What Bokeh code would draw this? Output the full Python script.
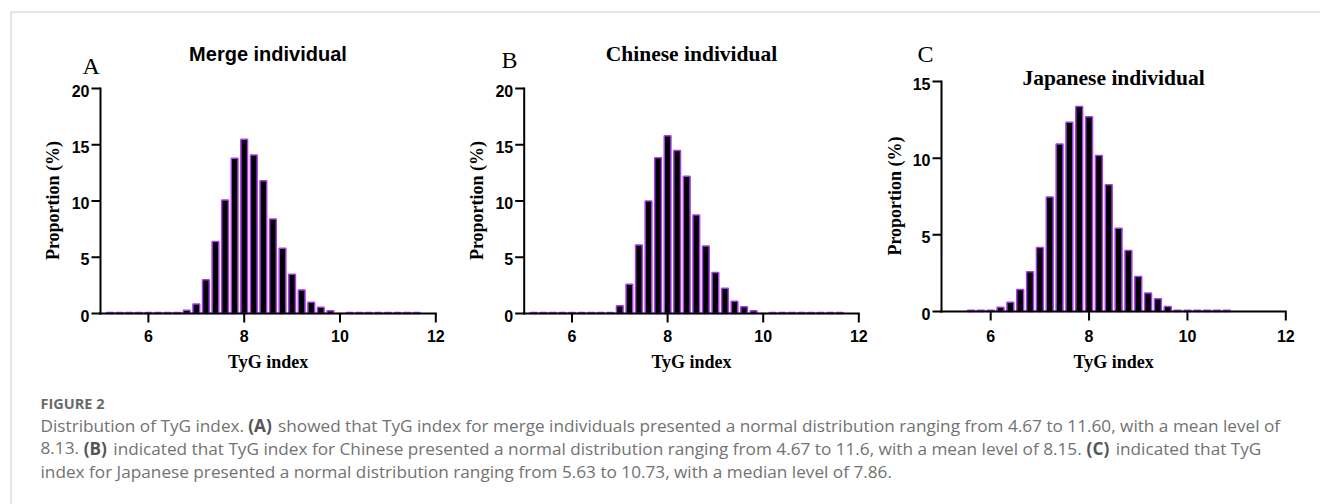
from bokeh.plotting import figure
from bokeh.models import Range1d
from bokeh.core.properties import value
from bokeh.embed import file_html
from bokeh.resources import INLINE

# ---------------- data ----------------
merge_x = [5.2, 5.4, 5.6, 5.8, 6.0, 6.2, 6.4, 6.6, 6.8, 7.0, 7.2, 7.4, 7.6, 7.8, 8.0, 8.2, 8.4,
           8.6, 8.8, 9.0, 9.2, 9.4, 9.6, 9.8, 10.0, 10.2, 10.4, 10.6, 10.8, 11.0, 11.2, 11.4, 11.6]
merge_y = [0.1, 0.1, 0.1, 0.1, 0.1, 0.1, 0.1, 0.1, 0.3, 0.85, 3.0, 6.4, 10.1, 13.8, 15.5, 14.1, 11.8,
           8.4, 5.8, 3.5, 2.1, 1.0, 0.55, 0.25, 0.0, 0.1, 0.1, 0.1, 0.1, 0.1, 0.1, 0.1, 0.1]

chinese_x = [5.2, 5.4, 5.6, 5.8, 6.0, 6.2, 6.4, 6.6, 6.8, 7.0, 7.2, 7.4, 7.6, 7.8, 8.0, 8.2, 8.4,
             8.6, 8.8, 9.0, 9.2, 9.4, 9.6, 9.8, 10.0, 10.2, 10.4, 10.6, 10.8, 11.0, 11.2, 11.4, 11.6]
chinese_y = [0.1, 0.1, 0.1, 0.1, 0.1, 0.1, 0.1, 0.1, 0.1, 0.7, 2.6, 6.1, 10.0, 13.85, 15.8, 14.5, 12.2,
             8.75, 6.0, 3.65, 2.25, 1.1, 0.6, 0.25, 0.0, 0.1, 0.1, 0.1, 0.1, 0.1, 0.1, 0.1, 0.1]

japanese_x = [5.6, 5.8, 6.0, 6.2, 6.4, 6.6, 6.8, 7.0, 7.2, 7.4, 7.6, 7.8, 8.0, 8.2, 8.4, 8.6,
              8.8, 9.0, 9.2, 9.4, 9.6, 9.8, 10.0, 10.2, 10.4, 10.6, 10.8]
japanese_y = [0.08, 0.08, 0.08, 0.28, 0.6, 1.43, 2.6, 4.17, 7.46, 10.93, 12.35, 13.37, 12.7, 10.17, 8.26, 5.43,
              3.98, 2.28, 1.2, 0.83, 0.33, 0.08, 0.08, 0.08, 0.08, 0.08, 0.08]

x_ticks = [6, 8, 10, 12]
y_ticks_ab = [0, 5, 10, 15, 20]
y_ticks_c = [0, 5, 10, 15]
x_limits = (5, 12)
y_limits_ab = (0, 20)
y_limits_c = (0, 15)

panel_titles = ["Merge individual", "Chinese individual", "Japanese individual"]
panel_letters = ["A", "B", "C"]
x_label = "TyG index"
y_label = "Proportion (%)"

caption_head = "FIGURE 2"
cap_l1 = ["Distribution of TyG index.", "(A)",
          "showed that TyG index for merge individuals presented a normal distribution ranging from 4.67 to 11.60, with a mean level of"]
cap_l2 = ["8.13.", "(B)",
          "indicated that TyG index for Chinese presented a normal distribution ranging from 4.67 to 11.6, with a mean level of 8.15.",
          "(C)", "indicated that TyG"]
cap_l3 = "index for Japanese presented a normal distribution ranging from 5.63 to 10.73, with a median level of 7.86."

# ---------------- canvas ----------------
W, H = 1320, 504
p = figure(width=W, height=H, x_range=Range1d(0, W), y_range=Range1d(H, 0),
           output_backend="svg", toolbar_location=None, x_axis_type=None, y_axis_type=None)
p.min_border_left = 0
p.min_border_right = 0
p.min_border_top = 0
p.min_border_bottom = 0
p.outline_line_color = None
p.background_fill_color = "white"
p.border_fill_color = "white"

BAR_LINE = "#A63DEB"
SANS = value("Liberation Sans")
SERIF = value("Liberation Serif")

# card border (page pixels)
p.segment(x0=[10.5, 10.5], y0=[11.5, 11.5], x1=[W, 10.5], y1=[11.5, H],
          line_color="#cccccc", line_width=1)


def add_panel(key, xs, ys, ylim, yticks, frame, ylab_dx, ylab_cy):
    # frame = (px_left, px_right, py_bottom, py_top): page pixels of the data limits
    pl, pr, pb, pt = frame
    x0, x1 = x_limits
    y0, y1 = ylim
    kx = (pr - pl) / (x1 - x0)
    ky = (pb - pt) / (y1 - y0)
    xn, yn = "x" + key, "y" + key
    p.extra_x_ranges[xn] = Range1d(x0 - pl / kx, x0 + (W - pl) / kx)
    p.extra_y_ranges[yn] = Range1d(y0 - (H - pb) / ky, y0 + pb / ky)
    kw = dict(x_range_name=xn, y_range_name=yn)

    # bars
    p.vbar(x=xs, top=ys, bottom=0, width=0.14, fill_color="black",
           line_color=BAR_LINE, line_width=1.5, **kw)

    # axis lines
    p.segment(x0=[x0, x0], y0=[y0, y0], x1=[x1, x0], y1=[y0, y1],
              line_color="black", line_width=2, line_cap="square", **kw)
    # ticks (9 px long)
    p.segment(x0=[x0] * len(yticks), y0=yticks, x1=[x0 - 9 / kx] * len(yticks), y1=yticks,
              line_color="black", line_width=2, **kw)
    p.segment(x0=x_ticks, y0=[y0] * len(x_ticks), x1=x_ticks, y1=[y0 - 9 / ky] * len(x_ticks),
              line_color="black", line_width=2, **kw)
    # tick labels
    p.text(x=[x0 - 11 / kx] * len(yticks), y=[t - 2 / ky for t in yticks],
           text=[str(t) for t in yticks], text_align="right", text_baseline="middle",
           text_font=SANS, text_font_style="bold", text_font_size="16px", text_color="black", **kw)
    p.text(x=x_ticks, y=[y0 - (335.3 - pb) / ky] * len(x_ticks), text=[str(t) for t in x_ticks],
           text_align="center", text_baseline="middle", text_font=SANS, text_font_style="bold",
           text_font_size="16px", text_color="black", **kw)
    # axis labels
    p.text(x=[(x0 + x1) / 2], y=[y0 - (361.7 - pb) / ky], text=[x_label], text_align="center",
           text_baseline="middle", text_font=SERIF, text_font_style="bold",
           text_font_size="18px", text_color="black", **kw)
    p.text(x=[x0 - ylab_dx / kx], y=[y0 + (pb - ylab_cy) / ky], text=[y_label], angle=1.5707963,
           text_align="center", text_baseline="middle", text_font=SERIF, text_font_style="bold",
           text_font_size="18px", text_color="black", **kw)


add_panel("A", merge_x, merge_y, y_limits_ab, y_ticks_ab, (100, 435.3, 313, 88), 47.5, 200)
add_panel("B", chinese_x, chinese_y, y_limits_ab, y_ticks_ab, (523.7, 858.3, 313, 88), 47.5, 200)
add_panel("C", japanese_x, japanese_y, y_limits_c, y_ticks_c, (941, 1285.3, 311, 81), 46.5, 195.5)

# panel titles and letters (page pixels, vertical centres)
p.text(x=[267.5], y=[53], text=[panel_titles[0]], text_align="center", text_baseline="middle",
       text_font=SANS, text_font_style="bold", text_font_size="20px", text_color="black")
p.text(x=[691, 1113], y=[53, 77.5], text=panel_titles[1:], text_align="center",
       text_baseline="middle", text_font=SERIF, text_font_style="bold",
       text_font_size="21.5px", text_color="black")
p.text(x=[82, 501, 917], y=[65, 59, 53.5], text=panel_letters, text_align="left",
       text_baseline="middle", text_font=SERIF, text_font_size="24px", text_color="black")

# caption
CAP_FONT = value("Open Sans")
CAP_SIZE = "17.2px"
p.text(x=[40], y=[402.5], text=[caption_head], text_font=CAP_FONT, text_font_size="14.5px",
       text_font_style="bold", text_color="#6a6a6a", text_baseline="middle")
p.text(x=[40, 277.6, 40, 112.8, 1115.2, 40],
       y=[424.5, 424.5, 447.5, 447.5, 447.5, 470.5],
       text=[cap_l1[0], cap_l1[2], cap_l2[0], cap_l2[2], cap_l2[4], cap_l3],
       text_font=CAP_FONT, text_font_size=CAP_SIZE, text_color="#727272",
       text_baseline="middle", text_align="left")
p.text(x=[247.8, 83.2, 1086.1], y=[424.5, 447.5, 447.5],
       text=[cap_l1[1], cap_l2[1], cap_l2[3]],
       text_font=CAP_FONT, text_font_size=CAP_SIZE, text_font_style="bold",
       text_color="#555555", text_baseline="middle", text_align="left")

open("out.html", "w").write(file_html(p, INLINE))
